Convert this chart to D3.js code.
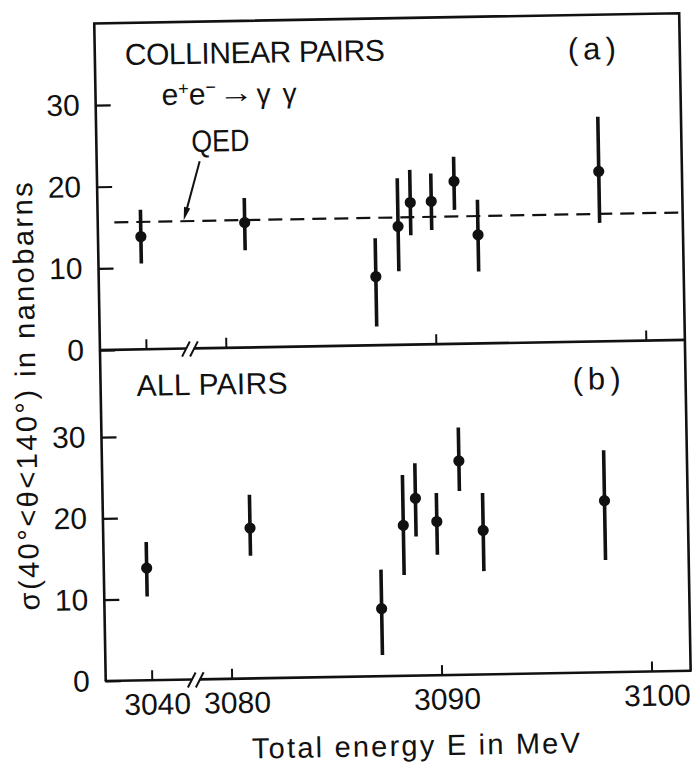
<!DOCTYPE html>
<html><head><meta charset="utf-8">
<script src="https://cdn.jsdelivr.net/npm/d3@7"></script>
<style>
html,body{margin:0;padding:0;background:#fff;}
svg{display:block;}
text{font-family:"Liberation Sans", Arial, "DejaVu Sans", sans-serif; fill:#111;}
</style>
</head><body>
<svg id="chart" width="693" height="765"></svg>
<script>
// ---- data ----
const energies       = [3039.85, 3081.0, 3087.2, 3088.3, 3088.9, 3089.9, 3091.0, 3092.1, 3097.9];
const collinearValues = [13.8, 15.3, 8.4, 14.5, 17.4, 17.5, 19.9, 13.3, 20.8];
const collinearLow    = [10.5, 11.9, 2.3, 9.0, 13.4, 14.0, 16.4, 8.8, 14.5];
const collinearHigh   = [17.1, 18.3, 13.1, 20.4, 21.4, 20.9, 22.9, 17.6, 27.5];
const allValues       = [13.8, 18.5, 8.3, 18.5, 21.8, 18.9, 26.3, 17.7, 21.1];
const allLow          = [10.3, 15.1, 2.6, 12.4, 17.1, 14.8, 22.6, 12.7, 13.8];
const allHigh         = [17.0, 22.6, 13.1, 24.7, 26.1, 22.4, 30.4, 22.3, 27.3];
const qedEnergies     = [3038.6, 3101.86];
const qedValues       = [15.6, 15.6];
const xTickValues     = [3040, 3080, 3090, 3100];
const yTickValues     = [0, 10, 20, 30];
const panelLabels     = ["COLLINEAR PAIRS", "ALL PAIRS"];
const panelTags       = ["(a)", "(b)"];

// ---- layout ----
const L = 100, R = 685, breakL = 186, breakR = 194;
const x = d3.scaleLinear()
  .domain([3037.81, 3041.90, 3078.48, 3101.86])
  .range([L, breakL, breakR, R]);
const yTop = d3.scaleLinear().domain([0, 40]).range([345, 18.3]);
const yBot = d3.scaleLinear().domain([0, 40.7]).range([676, 345]);

const svg = d3.select("#chart");
const g = svg.append("g").attr("transform", "rotate(-1,390,350)");

const ink = "#111";
const frameW = 2.6;

// frame
g.append("path")
  .attr("d", `M${L},${yTop(0)} L${L},${yTop(40)} L${R},${yTop(40)} L${R},${yBot(0)}`)
  .attr("fill", "none").attr("stroke", ink).attr("stroke-width", frameW);
g.append("line").attr("x1", L).attr("x2", L).attr("y1", yTop(0)).attr("y2", yBot(0))
  .attr("stroke", ink).attr("stroke-width", frameW);

function baseline(yPos) {
  g.append("line").attr("x1", L - 1).attr("x2", breakL).attr("y1", yPos).attr("y2", yPos)
    .attr("stroke", ink).attr("stroke-width", frameW);
  g.append("line").attr("x1", breakR).attr("x2", R + 1).attr("y1", yPos).attr("y2", yPos)
    .attr("stroke", ink).attr("stroke-width", frameW);
  [breakL, breakR].forEach(bx => {
    g.append("line").attr("x1", bx - 4).attr("y1", yPos + 8).attr("x2", bx + 4).attr("y2", yPos - 7)
      .attr("stroke", ink).attr("stroke-width", 2);
  });
}
baseline(yTop(0));
baseline(yBot(0));

// axes
function yAxis(scale) {
  const a = g.append("g").attr("transform", `translate(${L},0)`)
    .call(d3.axisLeft(scale).tickValues(yTickValues).tickSize(-15).tickPadding(16));
  a.select(".domain").remove();
  a.selectAll("line").attr("stroke", ink).attr("stroke-width", 2.2);
  a.selectAll("text").attr("font-size", 30).attr("fill", ink)
    .attr("font-family", '"Liberation Sans", Arial, sans-serif');
}
yAxis(yTop);
yAxis(yBot);

function xAxis(yPos, labels) {
  const a = g.append("g").attr("transform", `translate(0,${yPos})`)
    .call(d3.axisBottom(x).tickValues(xTickValues).tickSize(-10).tickPadding(13)
      .tickFormat(labels ? d3.format("d") : ""));
  a.select(".domain").remove();
  a.selectAll("line").attr("stroke", ink).attr("stroke-width", 2);
  a.selectAll("text").attr("font-size", 30).attr("fill", ink).attr("dx", 5)
    .attr("font-family", '"Liberation Sans", Arial, sans-serif');
}
xAxis(yTop(0), false);
xAxis(yBot(0), true);

// QED line
const qed = qedEnergies.map((e, i) => [e, qedValues[i]]);
g.append("path")
  .attr("d", d3.line().x(d => x(d[0])).y(d => yTop(d[1]))(qed))
  .attr("fill", "none").attr("stroke", ink).attr("stroke-width", 2.2)
  .attr("stroke-dasharray", "14,8");

// data
function drawPanel(yScale, vals, lo, hi) {
  const data = energies.map((e, i) => ({e, v: vals[i], lo: lo[i], hi: hi[i]}));
  g.append("g").selectAll("line").data(data).join("line")
    .attr("x1", d => x(d.e)).attr("x2", d => x(d.e))
    .attr("y1", d => yScale(d.lo)).attr("y2", d => yScale(d.hi))
    .attr("stroke", ink).attr("stroke-width", 3.6);
  g.append("g").selectAll("circle").data(data).join("circle")
    .attr("cx", d => x(d.e)).attr("cy", d => yScale(d.v)).attr("r", 5.6)
    .attr("fill", ink);
}
drawPanel(yTop, collinearValues, collinearLow, collinearHigh);
drawPanel(yBot, allValues, allLow, allHigh);

// panel labels
g.append("text").attr("x", 130).attr("y", 60.5).attr("font-size", 30)
  .attr("textLength", 260).attr("lengthAdjust", "spacing").text(panelLabels[0]);
g.append("text").attr("x", 136).attr("y", 391.5).attr("font-size", 30)
  .attr("textLength", 151).attr("lengthAdjust", "spacing").text(panelLabels[1]);
g.append("text").attr("x", 573).attr("y", 63).attr("font-size", 31)
  .attr("textLength", 48).attr("lengthAdjust", "spacing").text(panelTags[0]);
g.append("text").attr("x", 572).attr("y", 393).attr("font-size", 31)
  .attr("textLength", 48).attr("lengthAdjust", "spacing").text(panelTags[1]);

// reaction label e+e- -> gamma gamma
const ee = g.append("text").attr("x", 166).attr("y", 101).attr("font-size", 30);
ee.append("tspan").text("e");
ee.append("tspan").attr("dy", -10).attr("font-size", 18).text("+");
ee.append("tspan").attr("dy", 10).text("e");
ee.append("tspan").attr("dy", -11).attr("font-size", 18).text("−");
g.append("text").attr("x", 223).attr("y", 100).attr("font-size", 30)
  .attr("textLength", 35).attr("lengthAdjust", "spacingAndGlyphs").text("→");
g.append("text").attr("x", 261).attr("y", 101).attr("font-size", 28)
  .attr("textLength", 40).attr("lengthAdjust", "spacing").text("γ γ");

// QED annotation
g.append("text").attr("x", 195).attr("y", 148.5).attr("font-size", 31)
  .attr("textLength", 58).attr("lengthAdjust", "spacingAndGlyphs").text("QED");
const tipX = 186, tipY = yTop(qedValues[0]) - 1;
g.append("line").attr("x1", 203).attr("y1", 158).attr("x2", tipX + 2.4).attr("y2", tipY - 8)
  .attr("stroke", ink).attr("stroke-width", 2);
{
  const ang = Math.atan2(tipY - 158, tipX - 203);
  const len = 13, w = 3.2;
  const bx = tipX - len * Math.cos(ang), by = tipY - len * Math.sin(ang);
  const px = -Math.sin(ang) * w, py = Math.cos(ang) * w;
  g.append("path").attr("d", `M${tipX},${tipY} L${bx + px},${by + py} L${bx - px},${by - py} Z`)
    .attr("fill", ink);
}

// axis titles
const yTitle = g.append("text").attr("transform", "translate(35,390) rotate(-90)")
  .attr("text-anchor", "middle").attr("font-size", 29)
  .attr("textLength", 428).attr("lengthAdjust", "spacing");
yTitle.append("tspan").text("σ(40");
yTitle.append("tspan").text("°");
yTitle.append("tspan").text("<θ<140");
yTitle.append("tspan").text("°");
yTitle.append("tspan").text(") in nanobarns");

g.append("text").attr("x", 409).attr("y", 756).attr("text-anchor", "middle")
  .attr("font-size", 29).attr("textLength", 328).attr("lengthAdjust", "spacing")
  .text("Total energy E in MeV");
</script>
</body></html>
